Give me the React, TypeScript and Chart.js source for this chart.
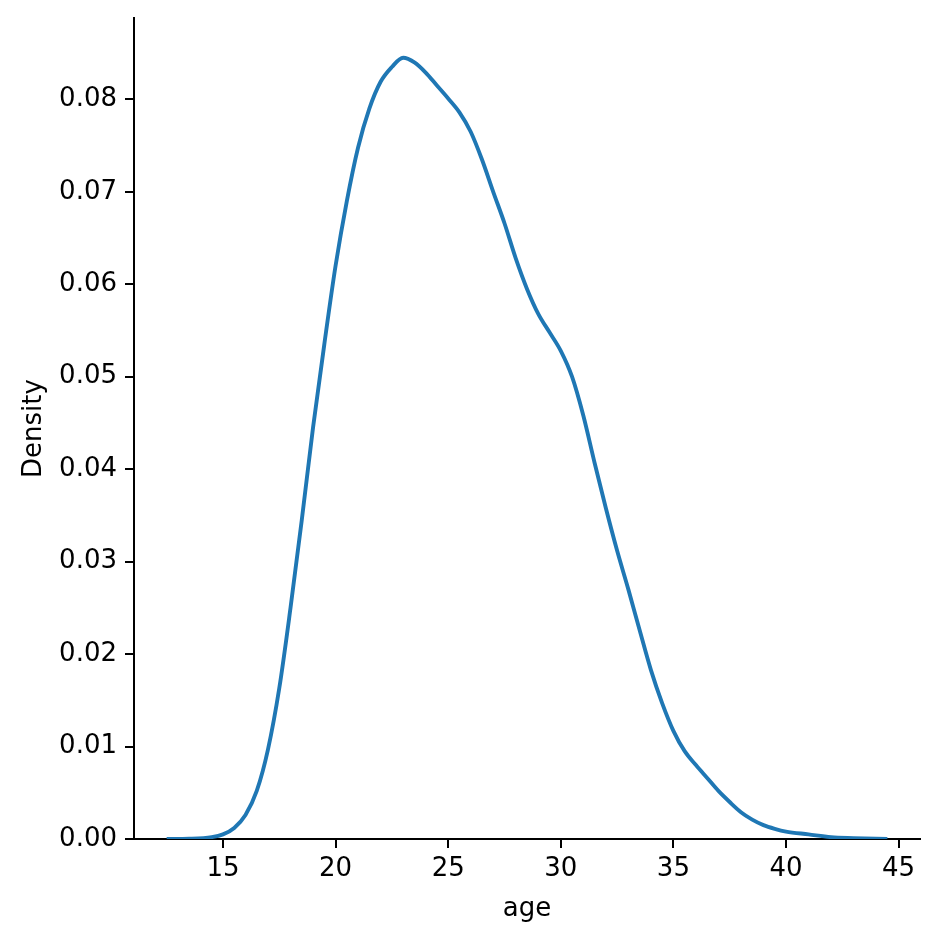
import React, { useEffect, useRef } from "react";
import { Chart, registerables } from "chart.js";

Chart.register(...registerables);

const ages: number[] = [
  12.5, 13.5, 14.5, 15, 15.5, 16, 16.5, 17, 17.5, 18, 18.5, 19, 19.5, 20, 20.5,
  21, 21.5, 22, 22.5, 23, 23.5, 24, 24.5, 25, 25.5, 26, 26.5, 27, 27.5, 28,
  28.5, 29, 29.5, 30, 30.5, 31, 31.5, 32, 32.5, 33, 33.5, 34, 34.5, 35, 35.5,
  36, 36.5, 37, 37.5, 38, 38.5, 39, 39.5, 40, 41, 42, 43, 44.5,
];
const density: number[] = [
  0.0, 0.00003, 0.0002, 0.0005, 0.0012, 0.0026, 0.0052, 0.0097, 0.0163, 0.025,
  0.0345, 0.0445, 0.0535, 0.062, 0.069, 0.0748, 0.079, 0.0819, 0.0835, 0.0845,
  0.084, 0.0829, 0.0815, 0.0801, 0.0786, 0.0765, 0.0735, 0.07, 0.0666, 0.0628,
  0.0595, 0.0568, 0.0548, 0.0528, 0.05, 0.0458, 0.0407, 0.0358, 0.0312, 0.027,
  0.0226, 0.0183, 0.0147, 0.0117, 0.0095, 0.008, 0.0066, 0.0052, 0.004,
  0.0029, 0.0021, 0.0015, 0.0011, 0.0008, 0.0005, 0.0002, 0.0001, 0.0,
];
const xTicks: number[] = [15, 20, 25, 30, 35, 40, 45];
const yTicks: number[] = [0, 0.01, 0.02, 0.03, 0.04, 0.05, 0.06, 0.07, 0.08];

export default function App() {
  const ref = useRef<HTMLCanvasElement | null>(null);
  useEffect(() => {
    if (!ref.current) return;
    const font = { family: "'DejaVu Sans', sans-serif", size: 26 };
    const chart = new Chart(ref.current, {
      type: "line",
      data: {
        datasets: [
          {
            data: ages.map((a, i) => ({ x: a, y: density[i] })),
            borderColor: "#1f77b4",
            borderWidth: 3.9,
            pointRadius: 0,
            cubicInterpolationMode: "monotone",
            fill: false,
          },
        ],
      },
      options: {
        animation: false,
        responsive: true,
        maintainAspectRatio: false,
        devicePixelRatio: 1,
        layout: { padding: { top: 18, right: 20, left: 0, bottom: 0 } },
        plugins: { legend: { display: false }, tooltip: { enabled: false } },
        scales: {
          x: {
            type: "linear",
            min: 11.05,
            max: 45.95,
            afterBuildTicks: (s: any) => {
              s.ticks = xTicks.map((v) => ({ value: v }));
            },
            afterFit: (s: any) => {
              s.height = 101;
              s.paddingLeft = 0;
              s.paddingRight = 0;
            },
            ticks: {
              autoSkip: false,
              maxRotation: 0,
              padding: 6,
              color: "#000",
              font,
              callback: (v: any) => String(v),
            },
            grid: {
              drawOnChartArea: false,
              drawTicks: true,
              tickLength: 9,
              color: "#000",
              lineWidth: 2,
            },
            border: { display: true, color: "#000", width: 2 },
            title: {
              display: true,
              text: "age",
              color: "#000",
              font,
              padding: { top: 0, bottom: 15 },
            },
          },
          y: {
            type: "linear",
            min: 0,
            max: 0.0888,
            afterBuildTicks: (s: any) => {
              s.ticks = yTicks.map((v) => ({ value: v }));
            },
            afterFit: (s: any) => {
              s.width = 134;
              s.paddingTop = 0;
              s.paddingBottom = 0;
            },
            ticks: {
              autoSkip: false,
              padding: 8,
              color: "#000",
              font,
              callback: (v: any) => Number(v).toFixed(2),
            },
            grid: {
              drawOnChartArea: false,
              drawTicks: true,
              tickLength: 9,
              color: "#000",
              lineWidth: 2,
            },
            border: { display: true, color: "#000", width: 2 },
            title: {
              display: true,
              text: "Density",
              color: "#000",
              font,
              padding: { top: 19, bottom: 0 },
            },
          },
        },
      },
    });
    return () => chart.destroy();
  }, []);
  return (
    <div
      style={{
        position: "absolute",
        left: 0,
        top: 0,
        width: 940,
        height: 940,
        background: "#fff",
      }}
    >
      <canvas ref={ref} />
    </div>
  );
}
